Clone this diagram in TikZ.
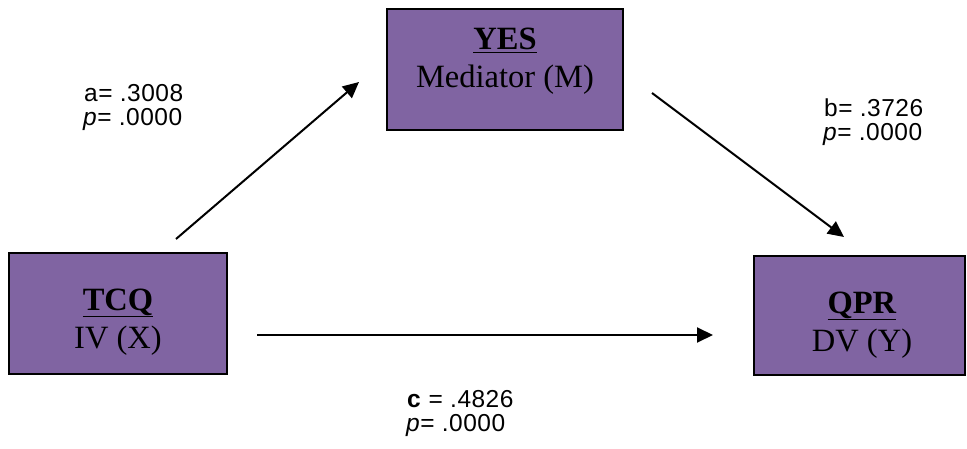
\documentclass[tikz,border=0pt]{standalone}
\usepackage{fontspec}
\setmainfont{Liberation Serif}
\newfontfamily\labelfont[LetterSpace=2]{Liberation Sans}
\usetikzlibrary{arrows.meta}
\definecolor{boxpurple}{HTML}{8064A2}
\tikzset{
  varbox/.style={draw=black, line width=2pt, fill=boxpurple, inner sep=0pt},
  boxtext/.style={anchor=base, inner sep=0pt, font=\fontsize{32.5}{38}\selectfont},
  stat/.style={anchor=base west, inner sep=0pt, font=\labelfont\fontsize{24.5}{24}\selectfont},
  path arrow/.style={line width=2pt, -{Triangle[length=16pt,width=15pt]}}
}
\begin{document}
\begin{tikzpicture}[x=1pt,y=-1pt]
\useasboundingbox (0,0) rectangle (967,449);
% boxes
\node[varbox, minimum width=236pt, minimum height=121pt] (yes) at (505,69.5) {};
\node[varbox, minimum width=218pt, minimum height=121pt] (tcq) at (118,313.5) {};
\node[varbox, minimum width=211pt, minimum height=119pt] (qpr) at (859.5,315.5) {};
% box texts
\node[boxtext] (yesT) at (505,50) {\underline{\textbf{YES}}};
\node[boxtext] (yesS) at (505,88) {Mediator (M)};
\node[boxtext] (tcqT) at (118,310) {\underline{\textbf{TCQ}}};
\node[boxtext] (tcqS) at (118,348) {IV (X)};
\node[boxtext] (qprT) at (862,313) {\underline{\textbf{QPR}}};
\node[boxtext] (qprS) at (862,351) {DV (Y)};
% stats
\node[stat] (a1) at (84,102) {a= .3008};
\node[stat] (a2) at (83,126) {\textit{p}= .0000};
\node[stat] (b1) at (824,117) {b= .3726};
\node[stat] (b2) at (823,141) {\textit{p}= .0000};
\node[stat] (c1) at (407,407) {\textbf{c} = .4826};
\node[stat] (c2) at (406,431) {\textit{p}= .0000};
% arrow endpoints
\coordinate (aS) at (176,239);
\coordinate (aE) at (359,82);
\coordinate (bS) at (652,93);
\coordinate (bE) at (844,237);
\coordinate (cS) at (257,335);
\coordinate (cE) at (713,335);
\draw[path arrow] (aS) -- (aE);
\draw[path arrow] (bS) -- (bE);
\draw[path arrow] (cS) -- (cE);
\end{tikzpicture}
\end{document}
